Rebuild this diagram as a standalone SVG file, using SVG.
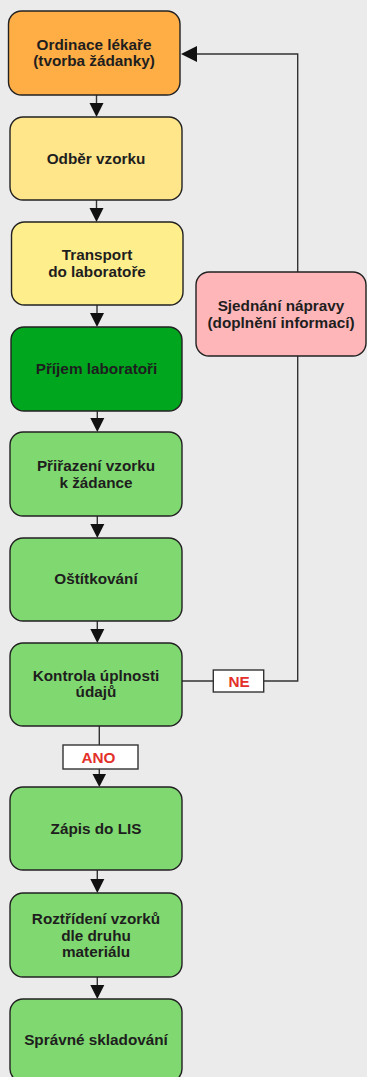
<svg xmlns="http://www.w3.org/2000/svg" width="367" height="1077" viewBox="0 0 367 1077">
<defs>
<style>
.n{stroke:#222;stroke-width:1.4}
.t{font-family:"Liberation Sans",Arial,sans-serif;font-weight:bold;font-size:15.3px;fill:#1e1e1e;text-anchor:middle}
.l{font-family:"Liberation Sans",Arial,sans-serif;font-weight:bold;font-size:15.3px;fill:#e3302a;text-anchor:middle}
.c{fill:none;stroke:#333;stroke-width:1.4}
.lb{fill:#fff;stroke:#333;stroke-width:1.4}
.ah{fill:#111}
</style>
</defs>
<rect width="367" height="1077" fill="#ebebeb"/>
<g id="connectors">
<line class="c" x1="96.5" y1="95" x2="96.5" y2="104"/>
<polygon class="ah" points="89.5,103 103.5,103 96.5,117"/>
<line class="c" x1="96.5" y1="200" x2="96.5" y2="209"/>
<polygon class="ah" points="89.5,208 103.5,208 96.5,222"/>
<line class="c" x1="97" y1="305" x2="97" y2="314"/>
<polygon class="ah" points="90,313 104,313 97,327"/>
<line class="c" x1="97.3" y1="411" x2="97.3" y2="419"/>
<polygon class="ah" points="90.3,418 104.3,418 97.3,432"/>
<line class="c" x1="97.3" y1="516" x2="97.3" y2="525"/>
<polygon class="ah" points="90.3,524 104.3,524 97.3,538"/>
<line class="c" x1="97.3" y1="621" x2="97.3" y2="630"/>
<polygon class="ah" points="90.3,629 104.3,629 97.3,643"/>
<line class="c" x1="99.3" y1="726" x2="99.3" y2="775"/>
<polygon class="ah" points="92.5,774 106,774 99.3,787"/>
<line class="c" x1="97.3" y1="870" x2="97.3" y2="880"/>
<polygon class="ah" points="90.3,879 104.3,879 97.3,893"/>
<line class="c" x1="97.3" y1="977" x2="97.3" y2="986"/>
<polygon class="ah" points="90.3,985 104.3,985 97.3,999"/>
<polyline class="c" points="182,681 297.7,681 297.7,356"/>
<polyline class="c" points="297.7,272 297.7,54 195,54"/>
<polygon class="ah" points="181,54 197,46 197,62"/>
<g id="label-ne">
<rect class="lb" x="213.3" y="670" width="50.4" height="22"/>
<text class="l" x="239" y="686.5">NE</text>
</g>
<g id="label-ano">
<rect class="lb" x="63" y="745" width="75" height="24"/>
<text class="l" x="98.5" y="762.5">ANO</text>
</g>
</g>
<g id="n1"><rect class="n" x="8.5" y="11" width="171.5" height="84" rx="13" fill="#ffad45"/>
<text class="t" x="94" y="49.5">Ordinace lékaře</text><text class="t" x="94" y="66">(tvorba žádanky)</text></g>
<g id="n2"><rect class="n" x="10" y="117" width="172" height="83" rx="13" fill="#ffe68b"/>
<text class="t" x="96" y="163.5">Odběr vzorku</text></g>
<g id="n3"><rect class="n" x="11.5" y="222" width="171.5" height="83" rx="13" fill="#ffee8c"/>
<text class="t" x="97" y="260">Transport</text><text class="t" x="97" y="277">do laboratoře</text></g>
<g id="n4"><rect class="n" x="11" y="327" width="171" height="84" rx="13" fill="#00a61e"/>
<text class="t" x="96.5" y="374">Příjem laboratoři</text></g>
<g id="n5"><rect class="n" x="10" y="432" width="172" height="84" rx="13" fill="#80d870"/>
<text class="t" x="96" y="470.5">Přiřazení vzorku</text><text class="t" x="96" y="487.5">k žádance</text></g>
<g id="n6"><rect class="n" x="10" y="538" width="172" height="83" rx="13" fill="#80d870"/>
<text class="t" x="96" y="584">Oštítkování</text></g>
<g id="n7"><rect class="n" x="10" y="643" width="172" height="83" rx="13" fill="#80d870"/>
<text class="t" x="96" y="680.5">Kontrola úplnosti</text><text class="t" x="96" y="697">údajů</text></g>
<g id="n8"><rect class="n" x="10" y="787" width="172" height="83" rx="13" fill="#80d870"/>
<text class="t" x="96" y="833.5">Zápis do LIS</text></g>
<g id="n9"><rect class="n" x="10" y="893" width="172" height="84" rx="13" fill="#80d870"/>
<text class="t" x="96" y="923.5">Roztřídení vzorků</text><text class="t" x="96" y="940.5">dle druhu</text><text class="t" x="96" y="957">materiálu</text></g>
<g id="n10"><rect class="n" x="10" y="999" width="172" height="83" rx="13" fill="#80d870"/>
<text class="t" x="96" y="1045">Správné skladování</text></g>
<g id="n11"><rect class="n" x="196" y="272" width="170" height="84" rx="13" fill="#ffb6b9"/>
<text class="t" x="281" y="310.5">Sjednání nápravy</text><text class="t" x="281" y="327.5">(doplnění informací)</text></g>
</svg>
